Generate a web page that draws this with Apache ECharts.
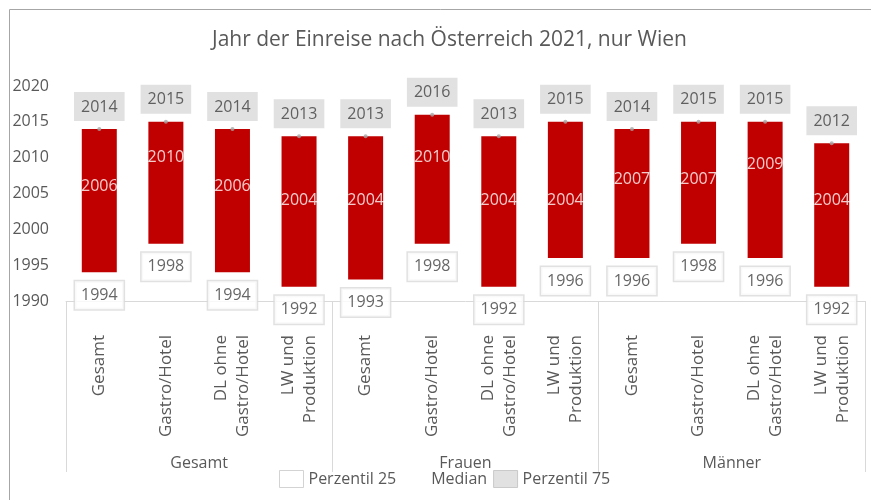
<!DOCTYPE html>
<html lang="de">
<head>
<meta charset="UTF-8">
<title>Jahr der Einreise</title>
<style>
  html, body { margin: 0; padding: 0; background: #fff; }
  #main { width: 871px; height: 500px; }
</style>
</head>
<body>
<div id="main"></div>
<script src="https://cdn.jsdelivr.net/npm/echarts@6/dist/echarts.min.js"></script>
<script>
  // Kategorien und Gruppen
  const categories = [
    'Gesamt', 'Gastro/Hotel', 'DL ohne\nGastro/Hotel', 'LW und\nProduktion',
    'Gesamt', 'Gastro/Hotel', 'DL ohne\nGastro/Hotel', 'LW und\nProduktion',
    'Gesamt', 'Gastro/Hotel', 'DL ohne\nGastro/Hotel', 'LW und\nProduktion'
  ];
  const groups = ['Gesamt', 'Frauen', 'Männer'];

  // Werte (Jahr)
  const p25 = [1994, 1998, 1994, 1992, 1993, 1998, 1992, 1996, 1996, 1998, 1996, 1992];
  const median = [2006, 2010, 2006, 2004, 2004, 2010, 2004, 2004, 2007, 2007, 2009, 2004];
  const p75 = [2014, 2015, 2014, 2013, 2013, 2016, 2013, 2015, 2014, 2015, 2015, 2012];

  const range = p75.map((v, i) => v - p25[i]);

  const font = 'Open Sans';
  const txt = '#595959';

  const chart = echarts.init(document.getElementById('main'));
  chart.setOption({
    animation: false,
    textStyle: { fontFamily: font },
    title: {
      text: 'Jahr der Einreise nach Österreich 2021, nur Wien',
      left: 207,
      top: 25,
      textStyle: { fontSize: 21, fontWeight: 'normal', color: txt, fontFamily: font }
    },
    graphic: [{
      type: 'polyline',
      shape: { points: [[9.5, 500], [9.5, 9.5], [871, 9.5]] },
      style: { stroke: '#a6a6a6', fill: null, lineWidth: 1 },
      silent: true
    }],
    legend: {
      bottom: 7,
      left: 274,
      itemWidth: 24,
      itemHeight: 17,
      itemGap: 6,
      textStyle: { fontSize: 16, color: txt, fontFamily: font },
      data: [
        { name: 'Perzentil 25', icon: 'rect', itemStyle: { color: '#fff', borderColor: '#c8c8c8', borderWidth: 1 } },
        { name: 'Median', icon: 'rect', itemStyle: { color: 'rgba(0,0,0,0)', borderWidth: 0 } },
        { name: 'Perzentil 75', icon: 'rect', itemStyle: { color: '#d9d9d9', borderColor: '#c0c0c0', borderWidth: 1 } }
      ]
    },
    grid: { left: 66, right: 6, top: 86, bottom: 199 },
    xAxis: [{
      type: 'category',
      data: categories,
      axisLine: { lineStyle: { color: '#d9d9d9' } },
      axisTick: { show: false },
      axisLabel: {
        interval: 0,
        rotate: 90,
        margin: 34,
        fontSize: 17,
        lineHeight: 22,
        color: txt,
        fontFamily: font
      }
    }, {
      type: 'category',
      position: 'bottom',
      data: groups,
      axisLine: { show: false },
      axisTick: { show: true, interval: 0, length: 171, lineStyle: { color: '#d9d9d9' } },
      axisLabel: { interval: 0, margin: 154, fontSize: 16, color: txt, fontFamily: font }
    }],
    yAxis: {
      type: 'value',
      min: 1990,
      max: 2020,
      interval: 5,
      axisLine: { show: false },
      axisTick: { show: false },
      splitLine: { show: false },
      axisLabel: {
        margin: 17,
        fontSize: 16,
        color: txt,
        fontFamily: font,
        formatter: v => String(v)
      }
    },
    series: [{
      name: 'base',
      type: 'bar',
      stack: 'box',
      data: p25,
      barWidth: 35,
      itemStyle: { color: 'rgba(0,0,0,0)' },
      silent: true
    }, {
      name: 'range',
      type: 'bar',
      stack: 'box',
      data: range,
      barWidth: 35,
      itemStyle: { color: '#c00000' }
    }, {
      name: 'Perzentil 25',
      type: 'scatter',
      data: p25,
      symbolSize: 0,
      itemStyle: { color: '#fff', borderColor: '#c8c8c8', borderWidth: 1 },
      label: {
        show: true,
        position: 'bottom',
        distance: 9,
        fontSize: 16,
        color: '#404040',
        backgroundColor: '#fff',
        borderColor: '#d9d9d9',
        borderWidth: 1.5,
        padding: [5, 6, 5, 6],
        lineHeight: 18
      },
      z: 5
    }, {
      name: 'Median',
      type: 'scatter',
      data: median,
      symbolSize: 0,
      itemStyle: { color: 'rgba(0,0,0,0)' },
      label: {
        show: true,
        position: 'inside',
        fontSize: 16,
        color: '#fff'
      },
      z: 5
    }, {
      name: 'Perzentil 75',
      type: 'scatter',
      data: p75,
      symbol: 'circle',
      symbolSize: 4,
      itemStyle: { color: '#a6a6a6' },
      label: {
        show: true,
        position: 'top',
        distance: 6,
        fontSize: 16,
        color: '#404040',
        backgroundColor: '#d9d9d9',
        padding: [6, 7, 5, 7],
        lineHeight: 18
      },
      z: 5
    }]
  });
</script>
</body>
</html>
